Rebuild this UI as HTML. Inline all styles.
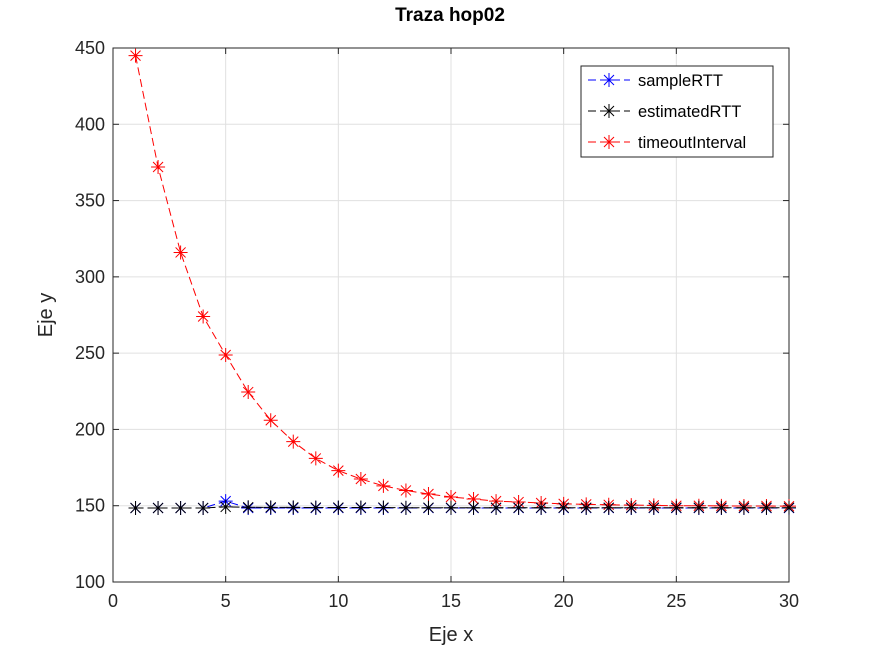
<!DOCTYPE html>
<html><head><meta charset="utf-8"><style>body{margin:0;background:#fff}svg{font-family:"Liberation Sans",sans-serif}</style></head>
<body>
<svg id="c" width="872" height="654"></svg>
<script>
const xs=[1,2,3,4,5,6,7,8,9,10,11,12,13,14,15,16,17,18,19,20,21,22,23,24,25,26,27,28,29,30];
const sampleRTT=[148.5,148.5,148.5,148.5,153,148.5,148.5,148.5,148.5,148.5,148.5,148.5,148.5,148.5,148.5,148.5,148.5,148.5,148.5,148.5,148.5,148.5,148.5,148.5,148.5,148.5,148.5,148.5,148.5,148.5];
const estimatedRTT=[148.5,148.5,148.5,148.5,149.2,149,148.9,148.9,148.8,148.8,148.8,148.8,148.7,148.7,148.7,148.7,148.7,148.7,148.7,148.7,148.7,148.7,148.7,148.7,148.7,148.7,148.7,148.7,148.7,148.7];
const timeoutInterval=[445,372,316,274,248.8,224.5,206,192,181,173,167.5,163,160,157.7,155.7,154.4,153,152.4,151.8,151.2,150.9,150.6,150.4,150.2,150,150,149.9,149.8,149.8,149.7];
const xTicks=[0,5,10,15,20,25,30];
const yTicks=[100,150,200,250,300,350,400,450];
const L=113,R=789,T=48,B=582;
const X=v=>L+(v-0)/30*(R-L), Y=v=>B-(v-100)/350*(B-T);
const s=document.getElementById('c');const NS='http://www.w3.org/2000/svg';
function el(t,a,p){const e=document.createElementNS(NS,t);for(const k in a)e.setAttribute(k,a[k]);(p||s).appendChild(e);return e;}
const grid=el('g',{});
xTicks.forEach(v=>{el('line',{x1:X(v),x2:X(v),y1:T,y2:B,stroke:'#e0e0e0'},grid);
 const t=el('text',{x:X(v),y:B+25,'text-anchor':'middle','font-size':18,fill:'#262626'});t.textContent=v;
 
 el('line',{x1:X(v),x2:X(v),y1:B,y2:B-6,stroke:'#262626'});el('line',{x1:X(v),x2:X(v),y1:T,y2:T+6,stroke:'#262626'});});
yTicks.forEach(v=>{el('line',{x1:L,x2:R,y1:Y(v),y2:Y(v),stroke:'#e0e0e0'},grid);
 const t=el('text',{x:L-8,y:Y(v)+6,'text-anchor':'end','font-size':18,fill:'#262626'});t.textContent=v;
 
 el('line',{x1:L,x2:L+6,y1:Y(v),y2:Y(v),stroke:'#262626'});el('line',{x1:R,x2:R-6,y1:Y(v),y2:Y(v),stroke:'#262626'});});
const ax=el('rect',{x:L,y:T,width:R-L,height:B-T,fill:'none',stroke:'#262626'});

function star(g,x,y,c){const r=7;el('path',{d:`M${x-r} ${y}H${x+r}M${x} ${y-r}V${y+r}M${x-5} ${y-5}L${x+5} ${y+5}M${x-5} ${y+5}L${x+5} ${y-5}`,stroke:c,'stroke-width':1},g);}
function series(name,vals,c){const g=el('g',{});
 el('polyline',{points:xs.map((x,i)=>X(x)+','+Y(vals[i])).join(' '),fill:'none',stroke:c,'stroke-dasharray':'8,4'},g);
 xs.forEach((x,i)=>star(g,X(x),Y(vals[i]),c));}
series('sample-rtt-series',sampleRTT,'#0000ff');
series('timeout-interval-series',timeoutInterval,'#ff0000');
series('estimated-rtt-series',estimatedRTT,'#000000');
const lg=el('g',{});
el('rect',{x:581,y:66,width:192,height:91,fill:'#fff',stroke:'#262626'},lg);
[['sampleRTT','#0000ff'],['estimatedRTT','#000000'],['timeoutInterval','#ff0000']].forEach((d,i)=>{
 const y=80+i*31;const e=el('g',{},lg);
 el('line',{x1:588,x2:630,y1:y,y2:y,stroke:d[1],'stroke-dasharray':'8,4'},e);star(e,609,y,d[1]);
 const t=el('text',{x:638,y:y+6,'font-size':16.5,fill:'#000'},e);t.textContent=d[0];});
const ti=el('text',{x:450,y:21,'text-anchor':'middle','font-size':19,'font-weight':'bold'});ti.textContent='Traza hop02';

const xl=el('text',{x:451,y:641,'text-anchor':'middle','font-size':20,fill:'#262626'});xl.textContent='Eje x';

const yl=el('text',{x:52,y:315,'text-anchor':'middle','font-size':20,fill:'#262626',transform:'rotate(-90 52 315)'});yl.textContent='Eje y';

</script>
</body></html>
